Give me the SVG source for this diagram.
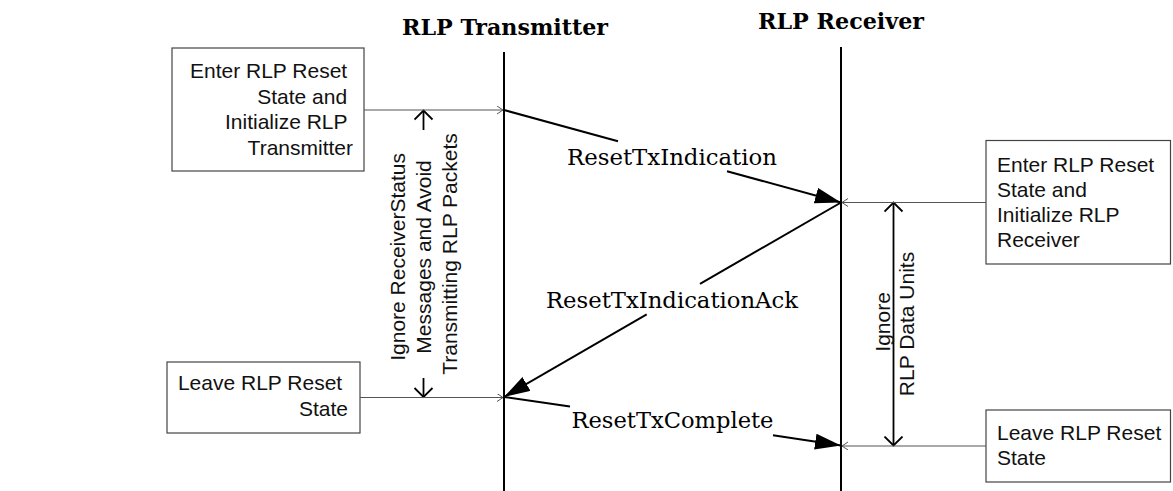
<svg xmlns="http://www.w3.org/2000/svg" width="1173" height="491" viewBox="0 0 1173 491">
  <style>
    .box { fill: #ffffff; stroke: #444444; stroke-width: 1.2; }
    .lbl { font-family: "Liberation Sans", Arial, sans-serif; font-size: 21px; fill: #111111; }
    .title { font-family: "DejaVu Serif", "Liberation Serif", serif; font-weight: bold; font-size: 22px; fill: #000000; }
    .msg { font-family: "DejaVu Serif", "Liberation Serif", serif; font-size: 22px; fill: #000000; }
    .life { stroke: #000000; stroke-width: 2; fill: none; }
    .link { stroke: #555555; stroke-width: 1.2; fill: none; }
    .arrow { stroke: #000000; stroke-width: 2; fill: none; }
    .span { stroke: #000000; stroke-width: 1.8; fill: none; }
  </style>
  <defs>
    <marker id="head" markerUnits="userSpaceOnUse" markerWidth="28" markerHeight="18" refX="26" refY="8" orient="auto">
      <path d="M0,0 L26,8 L0,16 z" fill="#000000"/>
    </marker>
    <marker id="tick" markerUnits="userSpaceOnUse" markerWidth="8" markerHeight="10" refX="6" refY="4" orient="auto">
      <path d="M0,0 L6,4 L0,8" fill="none" stroke="#555555" stroke-width="1"/>
    </marker>
    <marker id="open" markerUnits="userSpaceOnUse" markerWidth="12" markerHeight="22" refX="10" refY="10" orient="auto">
      <path d="M1,1 L10,10 L1,19" fill="none" stroke="#000000" stroke-width="1.8"/>
    </marker>
  </defs>

  <!-- lifelines -->
  <g id="transmitter">
    <text class="title" x="505" y="35" text-anchor="middle" textLength="206" lengthAdjust="spacingAndGlyphs">RLP Transmitter</text>
    <line class="life" x1="504" y1="52" x2="504" y2="491"/>
  </g>
  <g id="receiver">
    <text class="title" x="841" y="29" text-anchor="middle" textLength="166" lengthAdjust="spacingAndGlyphs">RLP Receiver</text>
    <line class="life" x1="841" y1="47" x2="841" y2="491"/>
  </g>

  <!-- state boxes -->
  <g id="tx-enter">
    <rect class="box" x="172" y="48" width="192" height="123"/>
    <text class="lbl" text-anchor="end">
      <tspan x="353" y="78">Enter RLP Reset</tspan>
      <tspan x="353" y="103.5">State and</tspan>
      <tspan x="353" y="129">Initialize RLP</tspan>
      <tspan x="353" y="154.5">Transmitter</tspan>
    </text>
  </g>
  <g id="tx-leave">
    <rect class="box" x="167" y="362" width="193" height="71"/>
    <text class="lbl" text-anchor="end">
      <tspan x="348" y="390">Leave RLP Reset</tspan>
      <tspan x="348" y="416">State</tspan>
    </text>
  </g>
  <g id="rx-enter">
    <rect class="box" x="986" y="140.5" width="184.5" height="123.5"/>
    <text class="lbl">
      <tspan x="997" y="172">Enter RLP Reset</tspan>
      <tspan x="997" y="197">State and</tspan>
      <tspan x="997" y="222">Initialize RLP</tspan>
      <tspan x="997" y="247">Receiver</tspan>
    </text>
  </g>
  <g id="rx-leave">
    <rect class="box" x="986" y="410" width="184.5" height="72"/>
    <text class="lbl">
      <tspan x="997" y="440">Leave RLP Reset</tspan>
      <tspan x="997" y="465">State</tspan>
    </text>
  </g>

  <!-- interval annotations -->
  <g id="tx-ignore">
    <line class="span" x1="423.5" y1="130" x2="423.5" y2="110.5" marker-end="url(#open)"/>
    <line class="span" x1="423.5" y1="378" x2="423.5" y2="397" marker-end="url(#open)"/>
    <text class="lbl" transform="translate(431,254) rotate(-90)" text-anchor="middle">
      <tspan x="0" y="-26">Ignore ReceiverStatus</tspan>
      <tspan x="0" y="0">Messages and Avoid</tspan>
      <tspan x="0" y="26">Transmitting RLP Packets</tspan>
    </text>
  </g>
  <g id="rx-ignore">
    <line class="span" x1="893.5" y1="324" x2="893.5" y2="202.5" marker-end="url(#open)"/>
    <line class="span" x1="893.5" y1="324" x2="893.5" y2="445.5" marker-end="url(#open)"/>
    <text class="lbl" transform="translate(902,322) rotate(-90)" text-anchor="middle">
      <tspan x="3" y="-12">Ignore</tspan>
      <tspan x="-2" y="11.5">RLP Data Units</tspan>
    </text>
  </g>

  <!-- connectors -->
  <g id="connectors">
    <line class="link" x1="364" y1="110" x2="503" y2="110" marker-end="url(#tick)"/>
    <line class="link" x1="360" y1="397.5" x2="503" y2="397.5" marker-end="url(#tick)"/>
    <line class="link" x1="986" y1="202.5" x2="842" y2="202.5" marker-end="url(#tick)"/>
    <line class="link" x1="986" y1="446" x2="842" y2="446" marker-end="url(#tick)"/>

    <!-- ResetTxIndication -->
    <line class="arrow" x1="504" y1="110" x2="618" y2="141.3"/>
    <line class="arrow" x1="727" y1="171.2" x2="841" y2="202.5" marker-end="url(#head)"/>
    <text class="msg" x="672" y="165" text-anchor="middle" textLength="210" lengthAdjust="spacingAndGlyphs">ResetTxIndication</text>

    <!-- ResetTxIndicationAck -->
    <line class="arrow" x1="841" y1="202.5" x2="700" y2="283.8"/>
    <line class="arrow" x1="646.7" y1="314.4" x2="504" y2="397" marker-end="url(#head)"/>
    <text class="msg" x="672" y="307.7" text-anchor="middle" textLength="252" lengthAdjust="spacingAndGlyphs">ResetTxIndicationAck</text>

    <!-- ResetTxComplete -->
    <line class="arrow" x1="504" y1="397" x2="570" y2="406.4"/>
    <line class="arrow" x1="773" y1="435.3" x2="841" y2="445.5" marker-end="url(#head)"/>
    <text class="msg" x="672.5" y="428.3" text-anchor="middle" textLength="202" lengthAdjust="spacingAndGlyphs">ResetTxComplete</text>
  </g>
</svg>
